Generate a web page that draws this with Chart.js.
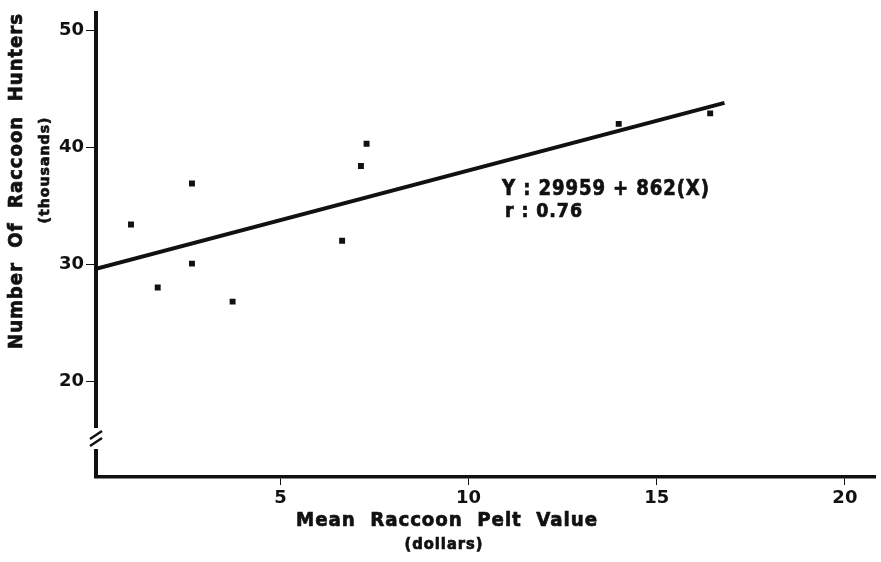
<!DOCTYPE html>
<html>
<head>
<meta charset="utf-8">
<script src="https://cdn.jsdelivr.net/npm/chart.js@4/dist/chart.umd.min.js"></script>
<style>
  html, body { margin: 0; padding: 0; background: #fff; }
  canvas { display: block; }
</style>
</head>
<body>
<canvas id="chart" width="881" height="562"></canvas>
<script>
// pelt value (dollars) vs hunters (thousands)
const peltValue = [1.03, 1.74, 2.65, 2.65, 3.73, 6.64, 7.14, 7.29, 13.99, 16.42];
const hunters   = [33.4, 28.0, 36.9, 30.05, 26.8, 32.0, 38.4, 40.3, 42.0, 42.9];

// fitted line as drawn (ends)
const fitX = [0.1, 16.8];
const fitY = [29.6, 43.8];

const xTicks = [5, 10, 15, 20];
const yTicks = [20, 30, 40, 50];

const FONT = '"DejaVu Sans", "Liberation Sans", sans-serif';

// squeeze heavy text sideways so it spans the given width (the print uses a condensed face)
function fitText(ctx, text, x, y, font, spacing, width, align) {
  ctx.save();
  ctx.font = font;
  ctx.letterSpacing = spacing + 'px';
  const w = ctx.measureText(text).width - spacing;
  const sx = width / w;
  ctx.translate(x, y);
  ctx.scale(sx, 1);
  ctx.textAlign = align || 'center';
  ctx.fillText(text, 0, 0);
  ctx.lineWidth = 0.7;
  ctx.strokeStyle = ctx.fillStyle;
  ctx.strokeText(text, 0, 0);
  ctx.restore();
}

const labelsPlugin = {
  id: 'labels',
  afterDraw(chart) {
    const ctx = chart.ctx;
    const area = chart.chartArea;
    ctx.save();

    // axis break on the y axis
    const by = 438;
    ctx.fillStyle = '#fff';
    ctx.fillRect(area.left - 4, by - 10, 9, 21);
    ctx.strokeStyle = '#111';
    ctx.lineWidth = 2.5;
    ctx.beginPath();
    ctx.moveTo(area.left - 6, by + 1); ctx.lineTo(area.left + 6, by - 7);
    ctx.moveTo(area.left - 6, by + 8); ctx.lineTo(area.left + 6, by);
    ctx.stroke();

    ctx.fillStyle = '#111';
    ctx.textBaseline = 'middle';

    // x axis title
    fitText(ctx, 'Mean  Raccoon  Pelt  Value', 447, 521, 'bold 20px ' + FONT, 1, 301);
    fitText(ctx, '(dollars)', 444, 545, 'bold 15px ' + FONT, 1, 78);

    // y axis title
    ctx.save();
    ctx.translate(17, 181);
    ctx.rotate(-Math.PI / 2);
    fitText(ctx, 'Number  Of  Raccoon  Hunters', 0, 0, 'bold 19px ' + FONT, 1, 335);
    ctx.restore();
    ctx.save();
    ctx.translate(45, 170);
    ctx.rotate(-Math.PI / 2);
    fitText(ctx, '(thousands)', 0, 0, 'bold 14px ' + FONT, 1, 106);
    ctx.restore();

    // regression note
    ctx.textBaseline = 'alphabetic';
    fitText(ctx, 'Y : 29959 + 862(X)', 502, 195, 'bold 21px ' + FONT, 1, 207, 'left');
    fitText(ctx, 'r : 0.76', 505, 217, 'bold 19px ' + FONT, 1, 77, 'left');
    ctx.restore();
  }
};

new Chart(document.getElementById('chart').getContext('2d'), {
  type: 'scatter',
  data: {
    datasets: [
      {
        data: peltValue.map((x, i) => ({ x, y: hunters[i] })),
        pointStyle: 'rect',
        pointRadius: 4.2,
        backgroundColor: '#111',
        borderColor: '#111',
        borderWidth: 0
      },
      {
        type: 'line',
        data: fitX.map((x, i) => ({ x, y: fitY[i] })),
        borderColor: '#111',
        borderWidth: 4,
        pointRadius: 0,
        fill: false
      }
    ]
  },
  options: {
    responsive: false,
    animation: false,
    devicePixelRatio: 1,
    layout: { padding: { top: 7, right: 6, left: 0, bottom: 0 } },
    plugins: {
      legend: { display: false },
      tooltip: { enabled: false }
    },
    scales: {
      x: {
        type: 'linear',
        min: 0.1,
        max: 20.8,
        afterBuildTicks: s => { s.ticks = xTicks.map(v => ({ value: v })); },
        afterFit: s => { s.height = 85; },
        grid: { drawOnChartArea: false, drawTicks: true, tickLength: 8, tickColor: '#111', tickWidth: 1 },
        border: { display: true, color: '#111', width: 3.5 },
        ticks: { color: '#111', padding: 3, font: { family: FONT, size: 18, weight: 'bold' } }
      },
      y: {
        type: 'linear',
        min: 11.8,
        max: 51.5,
        afterBuildTicks: s => { s.ticks = yTicks.map(v => ({ value: v })); },
        afterFit: s => { s.width = 96; },
        grid: { drawOnChartArea: false, drawTicks: true, tickLength: 10, tickColor: '#111', tickWidth: 1 },
        border: { display: true, color: '#111', width: 4 },
        ticks: { color: '#111', padding: 2, font: { family: FONT, size: 18, weight: 'bold' } }
      }
    }
  },
  plugins: [labelsPlugin]
});
</script>
</body>
</html>
